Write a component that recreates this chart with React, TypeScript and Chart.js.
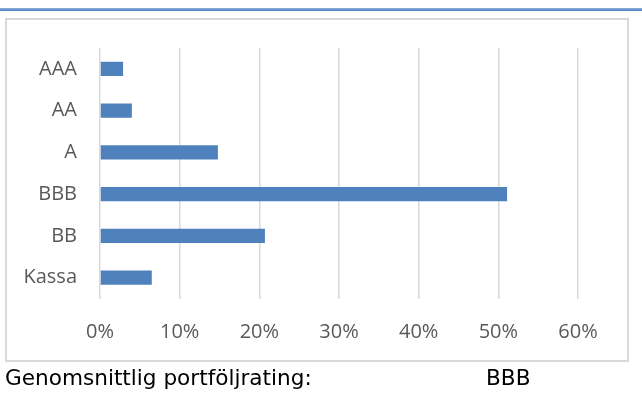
import React, { useEffect, useRef } from "react";
import { Chart, registerables } from "chart.js";

Chart.register(...registerables);

const categories = ["AAA", "AA", "A", "BBB", "BB", "Kassa"];
const shares = [2.9, 4.0, 14.8, 51.1, 20.7, 6.5];
const xTicks = [0, 10, 20, 30, 40, 50, 60];
const footerLabel = "Genomsnittlig portföljrating:";
const footerValue = "BBB";

export default function App() {
  const ref = useRef<HTMLCanvasElement | null>(null);

  useEffect(() => {
    const prevMargin = document.body.style.margin;
    document.body.style.margin = "0";
    const ctx = ref.current!.getContext("2d")!;
    const chart = new Chart(ctx, {
      type: "bar",
      data: {
        labels: categories,
        datasets: [
          {
            data: shares,
            backgroundColor: "#4f81bd",
            borderWidth: 0,
            categoryPercentage: 1,
            barPercentage: 0.345,
          },
        ],
      },
      options: {
        indexAxis: "y",
        animation: false,
        responsive: false,
        maintainAspectRatio: false,
        devicePixelRatio: 1,
        layout: { padding: { top: 48, right: 64, bottom: 62.5, left: 0 } },
        plugins: { legend: { display: false }, tooltip: { enabled: false } },
        scales: {
          x: {
            type: "linear",
            min: xTicks[0],
            max: xTicks[xTicks.length - 1],
            afterBuildTicks: (scale: any) => {
              scale.ticks = xTicks.map((v) => ({ value: v }));
            },
            afterFit: (scale: any) => {
              scale.height = 40;
            },
            grid: { color: "#d9d9d9", lineWidth: 1.5, drawTicks: false },
            border: { display: false },
            ticks: {
              padding: 22,
              color: "#595959",
              font: { family: "'Open Sans'", size: 20 },
              callback: (v: any) => v + "%",
            },
          },
          y: {
            type: "category",
            afterFit: (scale: any) => {
              scale.width = 100;
            },
            grid: { display: false, drawTicks: false },
            border: { display: false },
            ticks: {
              padding: 23,
              color: "#595959",
              font: { family: "'Open Sans'", size: 20 },
            },
          },
        },
      },
    });
    return () => {
      chart.destroy();
      document.body.style.margin = prevMargin;
    };
  }, []);

  return (
    <div style={{ position: "relative", width: 642, height: 401, overflow: "hidden", background: "#fff" }}>
      <div
        style={{
          position: "absolute",
          left: 0,
          top: 8,
          width: 642,
          height: 3,
          background: "linear-gradient(#8fb0da, #4a7ebb)",
        }}
      />
      <div
        style={{
          position: "absolute",
          left: 5,
          top: 18,
          width: 624,
          height: 344,
          boxSizing: "border-box",
          border: "2px solid #d9d9d9",
        }}
      />
      <canvas
        ref={ref}
        width={642}
        height={401}
        style={{ position: "absolute", left: 0, top: 0, width: 642, height: 401 }}
      />
      <div
        style={{
          position: "absolute",
          left: 5,
          top: 367,
          fontFamily: "'DejaVu Sans'",
          fontSize: 21.6,
          lineHeight: "21px",
          color: "#000",
          whiteSpace: "nowrap",
        }}
      >
        {footerLabel}
      </div>
      <div
        style={{
          position: "absolute",
          left: 486,
          top: 367,
          fontFamily: "'DejaVu Sans'",
          fontSize: 21.6,
          lineHeight: "21px",
          color: "#000",
          whiteSpace: "nowrap",
        }}
      >
        {footerValue}
      </div>
    </div>
  );
}
